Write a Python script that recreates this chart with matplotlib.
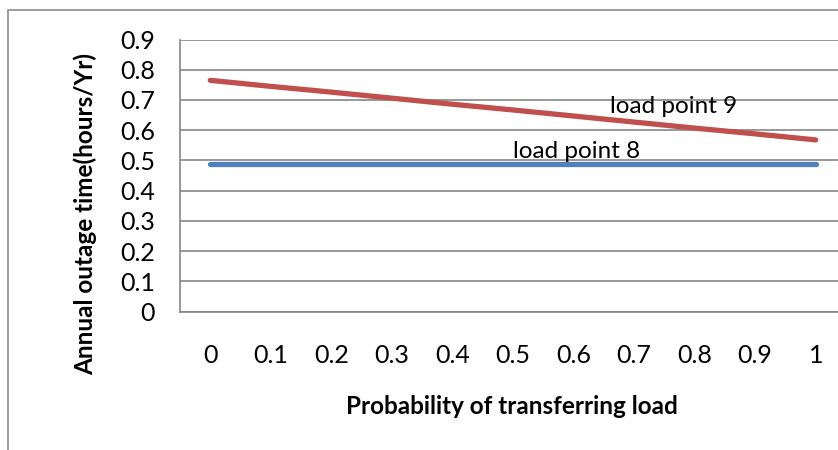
import matplotlib
matplotlib.use("Agg")
import matplotlib.pyplot as plt
from matplotlib.patches import Rectangle

plt.rcParams['font.family'] = ['Lato', 'DejaVu Sans']

prob = [0, 0.1, 0.2, 0.3, 0.4, 0.5, 0.6, 0.7, 0.8, 0.9, 1]
prob_labels = ['0', '0.1', '0.2', '0.3', '0.4', '0.5', '0.6', '0.7', '0.8', '0.9', '1']
lp8 = [0.49, 0.49, 0.49, 0.49, 0.49, 0.49, 0.49, 0.49, 0.49, 0.49, 0.49]
lp9 = [0.765, 0.745, 0.726, 0.706, 0.686, 0.667, 0.647, 0.627, 0.607, 0.588, 0.568]
yticks = [0, 0.1, 0.2, 0.3, 0.4, 0.5, 0.6, 0.7, 0.8, 0.9]
ytick_labels = ['0', '0.1', '0.2', '0.3', '0.4', '0.5', '0.6', '0.7', '0.8', '0.9']

W, H = 838, 450
fig = plt.figure(figsize=(W / 100, H / 100), dpi=100)

# outer chart border
fig.patches.append(Rectangle((8 / W, -0.1), 1.2, (H - 10) / H + 0.1,
                             transform=fig.transFigure, fill=False,
                             edgecolor='#8c8c8c', linewidth=1.2))

ax = fig.add_axes([180 / W, (H - 311.7) / H, 666 / W, 272.2 / H])
ax.set_xlim(-0.05, 1.05)
ax.set_ylim(0, 0.9)
ax.set_yticks(yticks)
ax.set_yticklabels(ytick_labels)
ax.set_xticks(prob)
ax.set_xticklabels(prob_labels)
ax.grid(axis='y', color='#868686', linewidth=1.2)
ax.set_axisbelow(True)
for s in ['top', 'right']:
    ax.spines[s].set_visible(False)
for s in ['left', 'bottom']:
    ax.spines[s].set_color('#868686')
    ax.spines[s].set_linewidth(1.2)
ax.tick_params(axis='both', length=0, labelsize=18, colors='black')
ax.tick_params(axis='y', pad=18)
ax.tick_params(axis='x', pad=23)

ax.plot(prob, lp8, color='#4F81BD', linewidth=3.8, solid_capstyle='round', clip_on=False)
ax.plot(prob, lp9, color='#C0504D', linewidth=3.8, solid_capstyle='round', clip_on=False)

ax.text(0.66, 0.68, 'load point 9', fontsize=17.5, va='center', ha='left')
ax.text(0.50, 0.53, 'load point 8', fontsize=17.5, va='center', ha='left')

ax.set_ylabel('Annual outage time(hours/Yr)', fontsize=17.5, fontweight='bold')
ax.set_xlabel('Probability of transferring load', fontsize=17.5, fontweight='bold')
ax.yaxis.set_label_coords(85 / W, (H - 214) / H, transform=fig.transFigure)
ax.xaxis.set_label_coords(512 / W, (H - 407) / H, transform=fig.transFigure)
ax.xaxis.label.set_va('center')
ax.yaxis.label.set_va('center')

fig.savefig('out.png', dpi=100)
